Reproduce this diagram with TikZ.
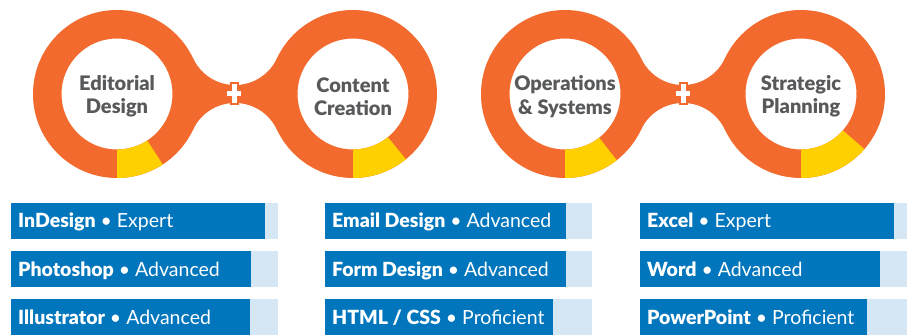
\documentclass[tikz,border=0pt]{standalone}
\usepackage{fontspec}
\setmainfont{Lato}[BoldFont={Lato Black}]
\usetikzlibrary{positioning}
\definecolor{ringorange}{HTML}{F26A2D}
\definecolor{ringyellow}{HTML}{FFD000}
\definecolor{labelgray}{HTML}{58595B}
\definecolor{barblue}{HTML}{0176BC}
\definecolor{barlight}{HTML}{D5E6F5}

\begin{document}
\begin{tikzpicture}[x=1pt, y=1pt,
  ring/.style = {fill=ringorange, even odd rule},
  part/.style = {fill=ringyellow},
  plus/.style = {draw=ringorange, line width=2pt, fill=white},
  ringlabel/.style = {align=center, text=labelgray, yshift=-2.5pt,
    font=\bfseries\fontsize{20}{23.5}\selectfont},
  barback/.style = {fill=barlight, minimum width=267pt, minimum height=36pt,
    anchor=west, inner sep=0pt},
  bar/.style = {fill=barblue, anchor=west, minimum width=#1,
    minimum height=36pt, inner sep=0pt},
  skill/.style = {text=white, inner sep=0pt, text height=14pt, text depth=0pt,
    font=\fontsize{19.5}{20}\selectfont}]
  \useasboundingbox (0,0) rectangle (913,335);

  % necks between the rings
  \fill[ringorange] (193.1,276.6) arc[start angle=205.1, end angle=334.9, radius=46.3]
    -- (276.9,205.4) arc[start angle=25.1, end angle=154.9, radius=46.3] -- cycle;
  \fill[ringorange] (641.1,276.6) arc[start angle=205.1, end angle=334.9, radius=46.3]
    -- (724.9,205.4) arc[start angle=25.1, end angle=154.9, radius=46.3] -- cycle;

  % rings
  \coordinate (c1) at (117,241);
  \coordinate (c2) at (353,241);
  \coordinate (c3) at (565,241);
  \coordinate (c4) at (801,241);
  \fill[ring] (c1) circle (84) (c1) circle (55.5);
  \fill[ring] (c2) circle (84) (c2) circle (55.5);
  \fill[ring] (c3) circle (84) (c3) circle (55.5);
  \fill[ring] (c4) circle (84) (c4) circle (55.5);
  \fill[part] ([shift={(-90:84)}]c1) arc[start angle=-90, end angle=-57, radius=84]
    -- ([shift={(-57:55.5)}]c1) arc[start angle=-57, end angle=-90, radius=55.5] -- cycle;
  \fill[part] ([shift={(-90:84)}]c2) arc[start angle=-90, end angle=-51, radius=84]
    -- ([shift={(-51:55.5)}]c2) arc[start angle=-51, end angle=-90, radius=55.5] -- cycle;
  \fill[part] ([shift={(-90:84)}]c3) arc[start angle=-90, end angle=-52, radius=84]
    -- ([shift={(-52:55.5)}]c3) arc[start angle=-52, end angle=-90, radius=55.5] -- cycle;
  \fill[part] ([shift={(-90:84)}]c4) arc[start angle=-90, end angle=-41, radius=84]
    -- ([shift={(-41:55.5)}]c4) arc[start angle=-41, end angle=-90, radius=55.5] -- cycle;

  % plus signs
  \draw[plus] (234,241) ++(-3.5,10.5) -- ++(7,0) -- ++(0,-7) -- ++(4.5,0) -- ++(0,-7)
    -- ++(-4.5,0) -- ++(0,-7) -- ++(-7,0) -- ++(0,7) -- ++(-4.5,0) -- ++(0,7) -- ++(4.5,0) -- cycle;
  \draw[plus] (683,241) ++(-3.5,10.5) -- ++(7,0) -- ++(0,-7) -- ++(4.5,0) -- ++(0,-7)
    -- ++(-4.5,0) -- ++(0,-7) -- ++(-7,0) -- ++(0,7) -- ++(-4.5,0) -- ++(0,7) -- ++(4.5,0) -- cycle;

  \node[ringlabel] (editorial) at (c1) {Editorial\\Design};
  \node[ringlabel] (content) at (c2) {Content\\Creation};
  \node[ringlabel] (operations) at (c3) {Operations\\\& Systems};
  \node[ringlabel] (strategic) at (c4) {Strategic\\Planning};

  % skill bars
  \node[barback] (indesignbg) at (11,114) {};
  \node[bar=254pt] (indesign) at (indesignbg.west) {};
  \node[skill, right=7pt of indesign.west] (indesigntext) {\textbf{InDesign} • Expert};
  \node[barback] (photoshopbg) at (11,66) {};
  \node[bar=240pt] (photoshop) at (photoshopbg.west) {};
  \node[skill, right=7pt of photoshop.west] (photoshoptext) {\textbf{Photoshop} • Advanced};
  \node[barback] (illustratorbg) at (11,18) {};
  \node[bar=239pt] (illustrator) at (illustratorbg.west) {};
  \node[skill, right=7pt of illustrator.west] (illustratortext) {\textbf{Illustrator} • Advanced};

  \node[barback] (emailbg) at (325,114) {};
  \node[bar=241pt] (email) at (emailbg.west) {};
  \node[skill, right=7pt of email.west] (emailtext) {\textbf{Email Design} • Advanced};
  \node[barback] (formbg) at (325,66) {};
  \node[bar=241pt] (form) at (formbg.west) {};
  \node[skill, right=7pt of form.west] (formtext) {\textbf{Form Design} • Advanced};
  \node[barback] (htmlbg) at (325,18) {};
  \node[bar=228pt] (html) at (htmlbg.west) {};
  \node[skill, right=7pt of html.west] (htmltext) {\textbf{HTML / CSS} • Proficient};

  \node[barback] (excelbg) at (640,114) {};
  \node[bar=254pt] (excel) at (excelbg.west) {};
  \node[skill, right=7pt of excel.west] (exceltext) {\textbf{Excel} • Expert};
  \node[barback] (wordbg) at (640,66) {};
  \node[bar=240pt] (word) at (wordbg.west) {};
  \node[skill, right=7pt of word.west] (wordtext) {\textbf{Word} • Advanced};
  \node[barback] (powerpointbg) at (640,18) {};
  \node[bar=227pt] (powerpoint) at (powerpointbg.west) {};
  \node[skill, right=7pt of powerpoint.west] (powerpointtext) {\textbf{PowerPoint} • Proficient};
\end{tikzpicture}
\end{document}
